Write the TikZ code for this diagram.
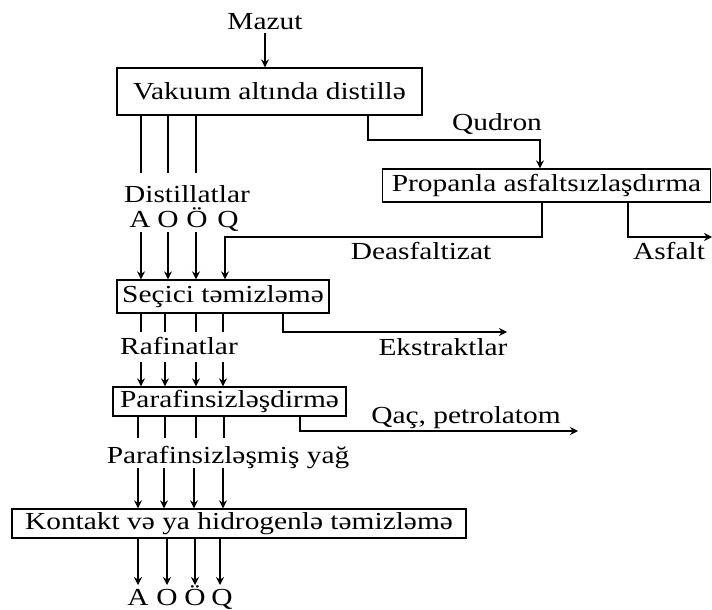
\documentclass[tikz,border=0pt]{standalone}
\usepackage{fontspec}
\setmainfont[FakeStretch=1.2]{Liberation Serif}
\usetikzlibrary{calc}
\usetikzlibrary{positioning}
\usetikzlibrary{arrows.meta}

\begin{document}
\begin{tikzpicture}[%
  x=1pt, y=-1pt,
  >={Stealth[length=8pt,width=8pt]},
  every node/.style={font=\fontsize{24.5}{28}\selectfont},
  unit/.style={draw, line width=1.3pt, inner sep=0pt, minimum height=33pt},
  flow/.style={line width=1.4pt},
  lbl/.style={inner sep=3pt, anchor=base},
]

  \useasboundingbox (0,0) rectangle (712,610);

  \node[unit, minimum width=305pt, minimum height=47pt] (vac) at (269.5,91.5) {Vakuum altında distillə};
  \node[unit, minimum width=328pt] (prop) at (546.5,185.5) {Propanla asfaltsızlaşdırma};
  \node[unit, minimum width=212pt] (sel) at (223,296.5) {Seçici təmizləmə};
  \node[unit, minimum width=233pt, minimum height=29pt] (dew) at (229.5,401.5) {Parafinsizləşdirmə};
  \node[unit, minimum width=454pt, minimum height=29pt] (hyd) at (239,523.5) {Kontakt və ya hidrogenlə təmizləmə};

  \node[lbl] (mazut) at (265,30) {Mazut};
  \draw[flow,->] (mazut) -- (mazut |- vac.north);

  \node[lbl] (qudron) at (497,130) {Qudron};
  \coordinate (qudTurn) at (368,140);
  \coordinate (qudIn) at (540,140);
  \draw[flow,->] (qudTurn |- vac.south) -- (qudTurn) -- (qudIn) -- (qudIn |- prop.north);

  \node[lbl] (deas) at (421,259) {Deasfaltizat};
  \coordinate (deasTurn) at (542,237);
  \coordinate (deasIn) at (225,237);
  \draw[flow,->] (deasTurn |- prop.south) -- (deasTurn) -- (deasIn) -- (deasIn |- sel.north);

  \node[lbl] (asf) at (669,259) {Asfalt};
  \coordinate (asfTurn) at (628,237);
  \coordinate (asfEnd) at (712,237);
  \draw[flow,->] (asfTurn |- prop.south) -- (asfTurn) -- (asfEnd);

  % distillatlar
  \foreach \x [count=\i] in {141,168,196}{
    \coordinate (d\i) at (\x,173);
    \draw[flow] (d\i |- vac.south) -- (d\i);
    \coordinate (din\i) at (\x,232);
    \draw[flow,->] (din\i) -- (din\i |- sel.north);
  }
  \node[lbl] (dist) at (187,202) {Distillatlar};
  \node[lbl] (dA) at (140,227) {A};
  \node[lbl] (dO) at (168,227) {O};
  \node[lbl] (dOe) at (197,227) {Ö};
  \node[lbl] (dQ) at (228,227) {Q};

  % rafinatlar
  \foreach \x [count=\i] in {141,165,196,223}{
    \coordinate (r\i) at (\x,332);
    \draw[flow] (r\i |- sel.south) -- (r\i);
    \coordinate (rin\i) at (\x,362);
    \draw[flow,->] (rin\i) -- (rin\i |- dew.north);
  }
  \node[lbl] (raf) at (179,354) {Rafinatlar};
  \node[lbl] (ext) at (443,355) {Ekstraktlar};
  \coordinate (extTurn) at (283,332);
  \coordinate (extEnd) at (507,332);
  \draw[flow,->] (extTurn |- sel.south) -- (extTurn) -- (extEnd);

  % parafinsizlesmis yag
  \foreach \x [count=\i] in {138,165,196,224}{
    \coordinate (p\i) at (\x,438);
    \draw[flow] (p\i |- dew.south) -- (p\i);
  }
  \foreach \x [count=\i] in {138,164,194,223}{
    \coordinate (pin\i) at (\x,468);
    \draw[flow,->] (pin\i) -- (pin\i |- hyd.north);
  }
  \node[lbl] (yag) at (228,463) {Parafinsizləşmiş yağ};
  \node[lbl] (qac) at (466,423) {Qaç, petrolatom};
  \coordinate (qacTurn) at (300,431);
  \coordinate (qacEnd) at (578,431);
  \draw[flow,->] (qacTurn |- dew.south) -- (qacTurn) -- (qacEnd);

  % products
  \foreach \x [count=\i] in {138,167,195,220}{
    \coordinate (h\i) at (\x,585);
    \draw[flow,->] (h\i |- hyd.south) -- (h\i);
  }
  \node[lbl] (hA) at (138,605) {A};
  \node[lbl] (hO) at (167,605) {O};
  \node[lbl] (hOe) at (195,605) {Ö};
  \node[lbl] (hQ) at (222,605) {Q};

\end{tikzpicture}
\end{document}
